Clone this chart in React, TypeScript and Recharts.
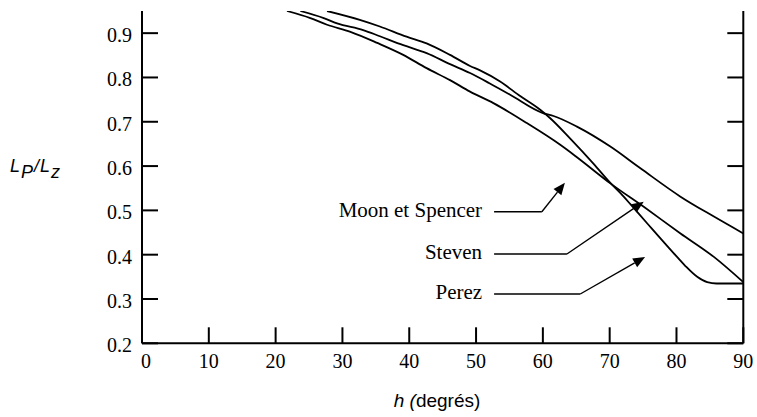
import React from 'react';
import { LineChart, Line, XAxis, YAxis, ReferenceLine } from 'recharts';

// ---- Data ----
const xTicks = [0, 10, 20, 30, 40, 50, 60, 70, 80, 90];
const yTicks = [0.2, 0.3, 0.4, 0.5, 0.6, 0.7, 0.8, 0.9];

// steep curve with flat bottom
const perezH = [27.7, 32.6, 35.6, 39.6, 42.6, 46.1, 49.1, 50.6, 53.6, 56.6, 59.6, 61.1, 64.1, 67.6, 70.1, 72.1, 73.1, 75.6, 79.6, 81.3, 83.1, 84.6, 86.0, 90];
const perezV = [0.95, 0.93, 0.915, 0.892, 0.877, 0.851, 0.826, 0.816, 0.791, 0.758, 0.727, 0.708, 0.662, 0.605, 0.562, 0.531, 0.514, 0.471, 0.403, 0.375, 0.35, 0.338, 0.335, 0.335];

// curve ending at ~0.45
const moonH = [23.7, 27.2, 29.2, 33.1, 35.6, 39.1, 42.6, 46.1, 49.1, 52.0, 55.1, 60.1, 61.6, 65.1, 70.1, 74.6, 80.6, 85.6, 90];
const moonV = [0.95, 0.934, 0.922, 0.907, 0.893, 0.873, 0.855, 0.83, 0.81, 0.787, 0.761, 0.719, 0.713, 0.689, 0.644, 0.595, 0.531, 0.486, 0.448];

// lowest curve in the middle, ending at ~0.34
const stevenH = [21.7, 25.2, 27.7, 31.2, 35.2, 39.1, 42.6, 46.1, 49.1, 52.6, 57.6, 62.6, 65.1, 70.1, 75.1, 80.6, 85.6, 90];
const stevenV = [0.95, 0.934, 0.919, 0.903, 0.878, 0.851, 0.821, 0.794, 0.768, 0.742, 0.697, 0.648, 0.62, 0.561, 0.508, 0.448, 0.395, 0.338];

// annotations (data coordinates)
const annotationNames = ['Moon et Spencer', 'Steven', 'Perez'];
const annotationStartH = [52.7, 52.7, 52.7];
const annotationBendH = [59.85, 63.6, 65.6];
const annotationLineV = [0.497, 0.4016, 0.3113];
const annotationTipH = [63.3, 75.1, 75.3];
const annotationTipV = [0.5625, 0.5196, 0.395];

const toRows = (hs: number[], vs: number[]) => hs.map((h, i) => ({ h, v: vs[i] }));
const perezData = toRows(perezH, perezV);
const moonData = toRows(moonH, moonV);
const stevenData = toRows(stevenH, stevenV);

const SERIF = "'Liberation Serif', 'Times New Roman', Times, serif";
const SANS = "'Liberation Sans', Arial, Helvetica, sans-serif";
const INK = '#000';
const serifStyle = { fontFamily: SERIF };
const sansStyle = { fontFamily: SANS };

const XTick = (props: any) => {
  const { x, y, payload } = props;
  const dx = payload.value === 0 ? 4 : 0;
  return (
    <g>
      <line x1={x} y1={y} x2={x} y2={y - 16} stroke={INK} strokeWidth={2} />
      <text x={x + dx} y={y + 25} textAnchor="middle" style={serifStyle} fontSize={20} fill={INK}>
        {payload.value}
      </text>
    </g>
  );
};

const YTickLeft = (props: any) => {
  const { x, y, payload } = props;
  return (
    <g>
      <line x1={x} y1={y} x2={x + 16} y2={y} stroke={INK} strokeWidth={2} />
      <text x={x - 10} y={y + 9} textAnchor="end" style={serifStyle} fontSize={20} fill={INK}>
        {Number(payload.value).toFixed(1)}
      </text>
    </g>
  );
};

const YTickRight = (props: any) => {
  const { x, y } = props;
  return <line x1={x} y1={y} x2={x - 16} y2={y} stroke={INK} strokeWidth={2} />;
};

const makeLeader = (name: string) => (props: any) => {
  const { x1, y1, x2, y2 } = props;
  return (
    <g>
      <line x1={x1} y1={y1} x2={x2} y2={y2} stroke={INK} strokeWidth={1.4} />
      <text x={x1 - 12} y={y1 + 5} textAnchor="end" style={serifStyle} fontSize={21} fill={INK}>
        {name}
      </text>
    </g>
  );
};

const ArrowSeg = (props: any) => {
  const { x1, y1, x2, y2 } = props;
  const ang = Math.atan2(y2 - y1, x2 - x1);
  const len = 12;
  const hw = 5;
  const bx = x2 - len * Math.cos(ang);
  const by = y2 - len * Math.sin(ang);
  const p1x = bx + hw * Math.sin(ang);
  const p1y = by - hw * Math.cos(ang);
  const p2x = bx - hw * Math.sin(ang);
  const p2y = by + hw * Math.cos(ang);
  return (
    <g>
      <line x1={x1} y1={y1} x2={bx} y2={by} stroke={INK} strokeWidth={1.4} />
      <polygon points={`${x2},${y2} ${p1x},${p1y} ${p2x},${p2y}`} fill={INK} />
    </g>
  );
};

const YLabel = () => (
  <text x={10} y={172} style={{ ...sansStyle, fontStyle: 'italic', letterSpacing: 1 }} fontSize={18} fill={INK}>
    L<tspan dy={6}>P</tspan>
    <tspan dy={-6}>/L</tspan>
    <tspan dy={6}>z</tspan>
  </text>
);

const XLabel = () => (
  <text x={437} y={406.5} textAnchor="middle" style={sansStyle} fontSize={19} fill={INK}>
    <tspan style={{ fontStyle: 'italic' }}>h (</tspan>
    <tspan>degrés)</tspan>
  </text>
);

export default function App() {
  return (
    <div style={{ position: 'absolute', left: 0, top: 0, width: 757, height: 417, background: '#fff' }}>
      <LineChart width={757} height={417} margin={{ top: 11, right: 3.7, bottom: 43.7, left: 82 }}>
        <XAxis
          type="number"
          dataKey="h"
          domain={[0, 90]}
          ticks={xTicks}
          interval={0}
          allowDataOverflow
          tickSize={0}
          tickMargin={0}
          tickLine={false}
          tick={(p: any) => <XTick {...p} />}
          axisLine={{ stroke: INK, strokeWidth: 2 }}
          height={30}
          label={{ content: () => <XLabel /> }}
        />
        <YAxis
          yAxisId="l"
          type="number"
          domain={[0.2, 0.95]}
          ticks={yTicks}
          interval={0}
          allowDataOverflow
          tickSize={0}
          tickMargin={0}
          tickLine={false}
          tick={(p: any) => <YTickLeft {...p} />}
          axisLine={{ stroke: INK, strokeWidth: 2 }}
          width={60}
          label={{ content: () => <YLabel /> }}
        />
        <YAxis
          yAxisId="r"
          orientation="right"
          type="number"
          domain={[0.2, 0.95]}
          ticks={yTicks}
          interval={0}
          allowDataOverflow
          tickSize={0}
          tickMargin={0}
          tickLine={false}
          tick={(p: any) => <YTickRight {...p} />}
          axisLine={{ stroke: INK, strokeWidth: 2 }}
          width={10}
        />
        <Line yAxisId="l" data={moonData} dataKey="v" type="monotone" stroke={INK} strokeWidth={1.8} dot={false} isAnimationActive={false} />
        <Line yAxisId="l" data={stevenData} dataKey="v" type="monotone" stroke={INK} strokeWidth={1.8} dot={false} isAnimationActive={false} />
        <Line yAxisId="l" data={perezData} dataKey="v" type="monotone" stroke={INK} strokeWidth={1.8} dot={false} isAnimationActive={false} />
        {annotationNames.map((name, i) => (
          <ReferenceLine
            key={`lead-${i}`}
            yAxisId="l"
            segment={[
              { x: annotationStartH[i], y: annotationLineV[i] },
              { x: annotationBendH[i], y: annotationLineV[i] },
            ]}
            shape={makeLeader(name)}
          />
        ))}
        {annotationNames.map((name, i) => (
          <ReferenceLine
            key={`arrow-${i}`}
            yAxisId="l"
            segment={[
              { x: annotationBendH[i], y: annotationLineV[i] },
              { x: annotationTipH[i], y: annotationTipV[i] },
            ]}
            shape={ArrowSeg}
          />
        ))}
      </LineChart>
    </div>
  );
}
